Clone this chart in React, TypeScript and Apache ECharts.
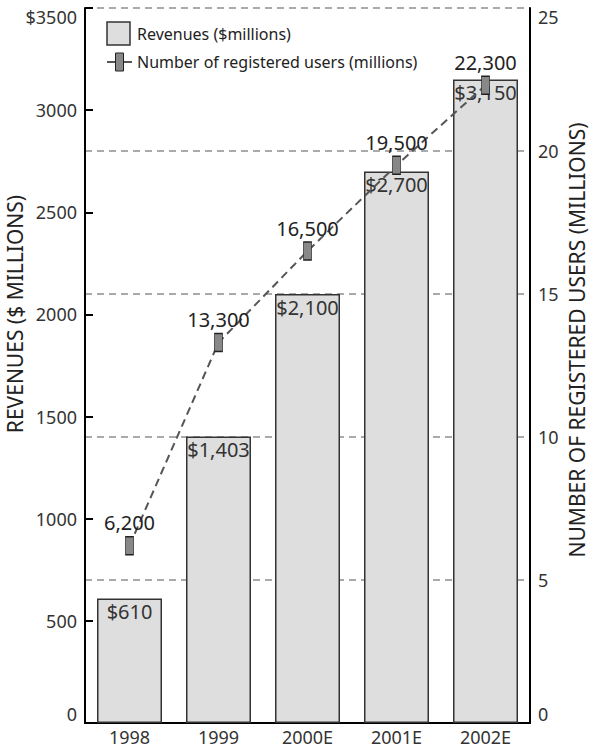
import React, { useEffect, useRef } from "react";
import * as echarts from "echarts";

const years = ["1998", "1999", "2000E", "2001E", "2002E"];
const revenues = [610, 1403, 2100, 2700, 3150]; // $ millions
const users = [6.2, 13.3, 16.5, 19.5, 22.3]; // millions

const FONT = "'Noto Sans', 'Open Sans', sans-serif";

export default function App() {
  const ref = useRef<HTMLDivElement>(null);

  useEffect(() => {
    if (!ref.current) return;
    const chart = echarts.init(ref.current, undefined, { renderer: "svg" });

    const fmtUsers = (v: number) => Math.round(v * 1000).toLocaleString("en-US");
    const fmtRev = (v: number) => "$" + v.toLocaleString("en-US");

    chart.setOption({
      animation: false,
      backgroundColor: "#ffffff",
      textStyle: { fontFamily: FONT },
      grid: { left: 85, right: 60, top: 8, bottom: 28, outerBoundsMode: "none", containLabel: false },
      xAxis: [
        {
          type: "category",
          data: years,
          axisLine: { lineStyle: { color: "#000", width: 2 } },
          axisTick: { show: false },
          axisLabel: { color: "#333", fontSize: 18, margin: 5, fontFamily: FONT },
        },
        {
          type: "category",
          data: years,
          position: "top",
          axisLine: { lineStyle: { color: "#000", width: 2 } },
          axisTick: { show: false },
          axisLabel: { show: false },
        },
      ],
      yAxis: [
        {
          type: "value",
          min: 0,
          max: 3500,
          interval: 500,
          axisLine: { show: true, lineStyle: { color: "#000", width: 2 } },
          axisTick: { show: true, inside: true, length: 8, lineStyle: { color: "#000", width: 2 } },
          axisLabel: {
            color: "#333",
            fontSize: 18,
            margin: 8,
            fontFamily: FONT,
            verticalAlignMaxLabel: "top",
            verticalAlignMinLabel: "bottom",
            formatter: (v: number) => (v === 3500 ? "$3500" : String(v)),
          },
          splitLine: { show: false },
        },
        {
          type: "value",
          min: 0,
          max: 25,
          interval: 5,
          axisLine: { show: true, lineStyle: { color: "#000", width: 2 } },
          axisTick: { show: false },
          axisLabel: {
            color: "#333",
            fontSize: 18,
            margin: 8,
            fontFamily: FONT,
            verticalAlignMaxLabel: "top",
            verticalAlignMinLabel: "bottom",
          },
          splitLine: {
            show: true,
            lineStyle: { color: "#aaa", width: 2, type: [7, 5] },
          },
        },
      ],
      series: [
        {
          name: "Revenues ($millions)",
          type: "bar",
          data: revenues,
          barWidth: 65,
          itemStyle: { color: "#dedede", borderColor: "#333", borderWidth: 1.5 },
          label: {
            show: true,
            position: "insideTop",
            distance: 3,
            color: "#333",
            fontSize: 20,
            fontFamily: FONT,
            formatter: (p: any) => fmtRev(p.value),
          },
          z: 2,
        },
        {
          name: "Number of registered users (millions)",
          type: "line",
          yAxisIndex: 1,
          data: users,
          symbol: "rect",
          symbolSize: [8, 18],
          lineStyle: { color: "#555", width: 2, type: [8, 5] },
          itemStyle: { color: "#888", borderColor: "#222", borderWidth: 1 },
          label: {
            show: true,
            position: "top",
            distance: 3,
            color: "#222",
            fontSize: 20,
            fontFamily: FONT,
            formatter: (p: any) => fmtUsers(p.value),
          },
          z: 5,
        },
      ],
      graphic: [
        // axis titles
        {
          type: "text",
          x: 15,
          y: 314,
          rotation: Math.PI / 2,
          style: {
            text: "REVENUES ($ MILLIONS)",
            fill: "#222",
            font: `21px ${FONT}`,
            align: "center",
            verticalAlign: "middle",
          },
        },
        {
          type: "text",
          x: 577,
          y: 340,
          rotation: Math.PI / 2,
          style: {
            text: "NUMBER OF REGISTERED USERS (MILLIONS)",
            fill: "#222",
            font: `21px ${FONT}`,
            align: "center",
            verticalAlign: "middle",
          },
        },
        // legend
        {
          type: "group",
          x: 107,
          y: 22,
          children: [
            {
              type: "rect",
              shape: { x: 0, y: 0, width: 23, height: 23 },
              style: { fill: "#dedede", stroke: "#333", lineWidth: 1.5 },
            },
            {
              type: "text",
              x: 30,
              y: 12,
              style: {
                text: "Revenues ($millions)",
                fill: "#222",
                font: `16px ${FONT}`,
                verticalAlign: "middle",
              },
            },
            {
              type: "line",
              shape: { x1: 0, y1: 40, x2: 25, y2: 40 },
              style: { stroke: "#555", lineWidth: 2 },
            },
            {
              type: "rect",
              shape: { x: 8.5, y: 31, width: 8, height: 18 },
              style: { fill: "#888", stroke: "#222", lineWidth: 1 },
            },
            {
              type: "text",
              x: 30,
              y: 40,
              style: {
                text: "Number of registered users (millions)",
                fill: "#222",
                font: `16px ${FONT}`,
                verticalAlign: "middle",
              },
            },
          ],
        },
      ],
    });

    return () => chart.dispose();
  }, []);

  return <div ref={ref} style={{ width: 590, height: 751, position: "absolute", left: 0, top: 0 }} />;
}
